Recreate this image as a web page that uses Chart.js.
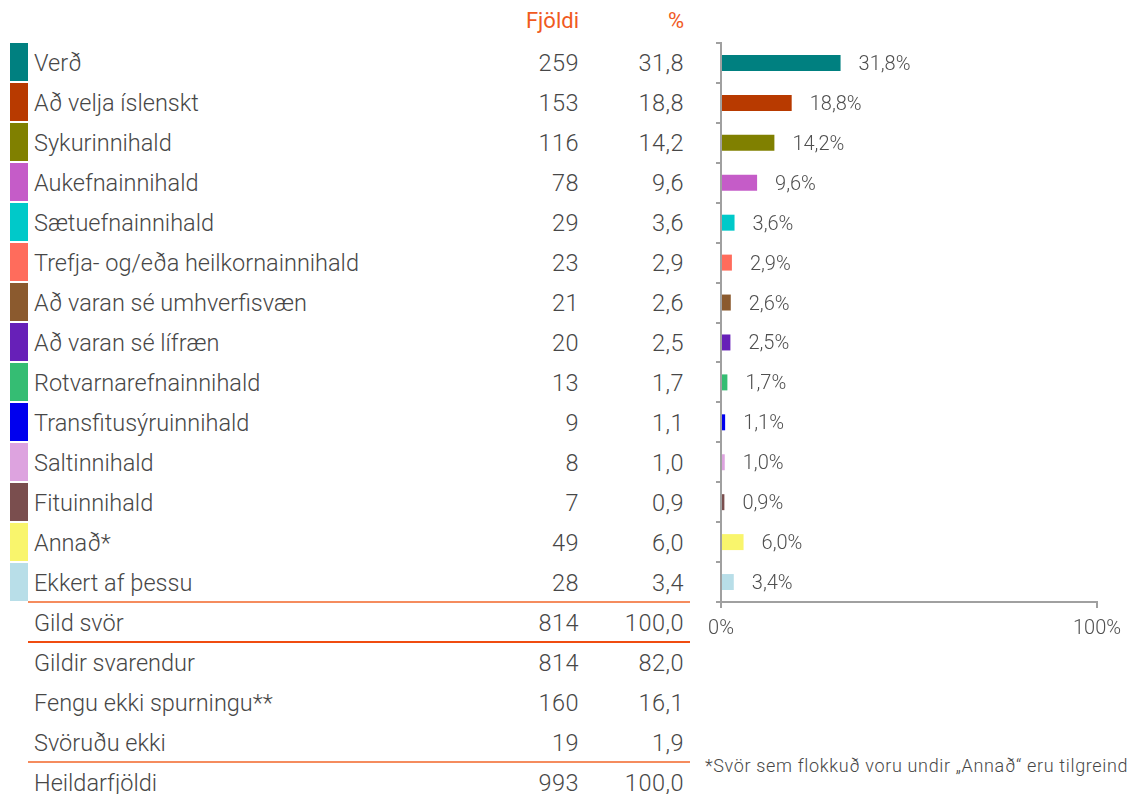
<!DOCTYPE html>
<html lang="is">
<head>
<meta charset="utf-8">
<title>Verð og innihald</title>
<script src="https://cdn.jsdelivr.net/npm/chart.js@4.4.1/dist/chart.umd.min.js"></script>
<style>
  html, body { margin:0; padding:0; background:#fff; }
  #page { position:relative; width:1134px; height:794px; overflow:hidden;
          font-family: Roboto, "Open Sans", sans-serif; color:#474747; font-weight:300; }
  .cell { position:absolute; font-size:23.5px; line-height:26px; white-space:nowrap; }
  .num { text-align:right; letter-spacing:0.5px; }
  .head { color:#f05a1e; font-size:22px; letter-spacing:0; font-weight:400; }
  .swatch { position:absolute; left:10px; width:18px; height:38px; }
  .rule { position:absolute; left:28px; width:662px; height:2px; }
  #chartBox { position:absolute; left:690px; top:0; width:444px; height:660px; }
  #note { position:absolute; left:705px; top:755px; font-size:18px; letter-spacing:0.65px; white-space:nowrap; }
</style>
</head>
<body>
<div id="page">
  <div id="chartBox"><canvas id="chart" width="444" height="660"></canvas></div>
  <div id="note">*Svör sem flokkuð voru undir „Annað“ eru tilgreind</div>
</div>
<script>
const $ = (id) => document.getElementById(id);

// data
const categories = [
  "Verð", "Að velja íslenskt", "Sykurinnihald", "Aukefnainnihald", "Sætuefnainnihald",
  "Trefja- og/eða heilkornainnihald", "Að varan sé umhverfisvæn", "Að varan sé lífræn",
  "Rotvarnarefnainnihald", "Transfitusýruinnihald", "Saltinnihald", "Fituinnihald",
  "Annað*", "Ekkert af þessu"
];
const counts = [259, 153, 116, 78, 29, 23, 21, 20, 13, 9, 8, 7, 49, 28];
const percents = [31.8, 18.8, 14.2, 9.6, 3.6, 2.9, 2.6, 2.5, 1.7, 1.1, 1.0, 0.9, 6.0, 3.4];
const colors = [
  "#008080", "#b83a00", "#808000", "#c55cc8", "#00c9c9", "#ff6c5c", "#8b5a2e",
  "#6720b8", "#35bd73", "#0000ee", "#dda3df", "#7a4e4e", "#f9f56c", "#b8dee8"
];

const summaryLabels = ["Gild svör", "Gildir svarendur", "Fengu ekki spurningu**", "Svöruðu ekki", "Heildarfjöldi"];
const summaryCounts = [814, 814, 160, 19, 993];
const summaryPercents = [100.0, 82.0, 16.1, 1.9, 100.0];

const xTicks = [0, 100];

function fmt(v){ return v.toFixed(1).replace(".", ","); }

function addCell(text, left, centerY, cls, right){
  const d = document.createElement("div");
  d.className = "cell " + (cls || "");
  d.textContent = text;
  d.style.top = (centerY - 13) + "px";
  if(right != null){ d.style.left = (right - 200) + "px"; d.style.width = "200px"; }
  else d.style.left = left + "px";
  $("page").appendChild(d);
}
function addRule(y, color){
  const d = document.createElement("div");
  d.className = "rule";
  d.style.top = (y - 1) + "px";
  d.style.background = color;
  $("page").appendChild(d);
}

function buildTable(){
  const rowH = 40, firstY = 63;
  addCell("Fjöldi", 0, 21, "num head", 579);
  addCell("%", 0, 21, "num head", 684);
  categories.forEach((c, i) => {
    const y = firstY + i*rowH;
    const sw = document.createElement("div");
    sw.className = "swatch";
    sw.style.top = (43 + i*rowH) + "px";
    sw.style.background = colors[i];
    $("page").appendChild(sw);
    addCell(c, 34, y);
    addCell(String(counts[i]), 0, y, "num", 579);
    addCell(fmt(percents[i]), 0, y, "num", 684);
  });
  summaryLabels.forEach((s, j) => {
    const y = firstY + (categories.length + j)*rowH;
    addCell(s, 34, y);
    addCell(String(summaryCounts[j]), 0, y, "num", 579);
    addCell(fmt(summaryPercents[j]), 0, y, "num", 684);
  });
  addRule(602, "#f58c5e");
  addRule(642, "#f04c10");
  addRule(762, "#f58c5e");
}

const barLabels = {
  id: "barLabels",
  afterDatasetsDraw(chart){
    const ctx = chart.ctx;
    const meta = chart.getDatasetMeta(0);
    ctx.save();
    ctx.font = "300 20px Roboto, 'Open Sans', sans-serif";
    ctx.fillStyle = "#4f4f4f";
    ctx.textAlign = "left";
    ctx.textBaseline = "middle";
    meta.data.forEach((bar, i) => {
      ctx.fillText(fmt(percents[i]) + "%", bar.x + 18, bar.y + 2);
    });
    ctx.restore();
  }
};

function buildChart(){
  const axisGray = "#a0a0a0";
  new Chart($("chart"), {
    type: "bar",
    data: {
      labels: categories,
      datasets: [{
        data: percents,
        backgroundColor: colors,
        barPercentage: 0.4,
        categoryPercentage: 1
      }]
    },
    options: {
      indexAxis: "y",
      responsive: false,
      animation: false,
      layout: { padding: { top: 43, left: 25, right: 37, bottom: 0 } },
      plugins: { legend: { display: false }, tooltip: { enabled: false } },
      scales: {
        x: {
          min: 0, max: 100,
          afterBuildTicks: (s) => { s.ticks = xTicks.map(v => ({ value: v })); },
          ticks: {
            callback: (v) => v + "%",
            color: "#4f4f4f",
            font: { family: "Roboto", size: 20, weight: 300 },
            padding: 9, maxRotation: 0
          },
          grid: { drawOnChartArea: false, tickLength: 6, color: axisGray, lineWidth: 2 },
          border: { color: axisGray, width: 2 },
          afterFit: (s) => { s.height = 58; }
        },
        y: {
          ticks: { display: false },
          grid: { drawOnChartArea: false, tickLength: 5, color: axisGray, lineWidth: 2, offset: true },
          border: { color: axisGray, width: 2 },
          afterFit: (s) => { s.width = 6; }
        }
      }
    },
    plugins: [barLabels]
  });
}

document.addEventListener("DOMContentLoaded", () => {
  buildTable();
  buildChart();
});
</script>
</body>
</html>
